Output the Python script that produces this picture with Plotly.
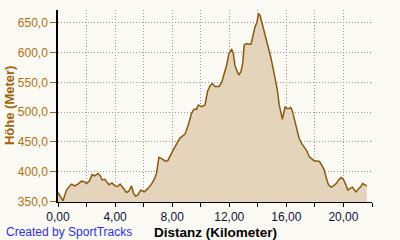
import plotly.graph_objects as go

distance_km = [0.0, 0.35, 0.59, 0.82, 0.94, 1.17, 1.4, 1.64, 1.83, 2.0, 2.22, 2.39, 2.57, 2.81, 2.97,
               3.09, 3.28, 3.44, 3.58, 3.79, 3.98, 4.17, 4.35, 4.56, 4.8, 4.96, 5.15, 5.29, 5.43, 5.57,
               5.8, 6.04, 6.27, 6.55, 6.74, 6.9, 7.07, 7.26, 7.49, 7.68, 7.84, 8.07, 8.53, 8.9, 9.12,
               9.36, 9.52, 9.71, 9.83, 10.06, 10.3, 10.48, 10.65, 10.81, 11.0, 11.28, 11.47, 11.65,
               11.82, 11.98, 12.17, 12.28, 12.4, 12.59, 12.68, 12.82, 12.94, 13.05, 13.22, 13.38,
               13.52, 13.64, 13.8, 13.94, 14.04, 14.15, 14.27, 14.44, 14.58, 14.74, 14.9, 15.05,
               15.21, 15.37, 15.5, 15.63, 15.72, 15.91, 16.02, 16.19, 16.31, 16.42, 16.56, 16.73,
               16.89, 17.08, 17.24, 17.43, 17.61, 17.78, 17.96, 18.13, 18.32, 18.48, 18.65, 18.79,
               18.95, 19.14, 19.3, 19.49, 19.65, 19.84, 20.0, 20.17, 20.31, 20.47, 20.63, 20.77,
               20.89, 21.05, 21.22, 21.33, 21.47, 21.64]
elevation_m = [365, 351, 369, 376, 379, 376, 379, 384, 383, 380, 385, 395, 393, 397, 393,
               386, 387, 382, 378, 381, 376, 375, 379, 373, 365, 367, 376, 364, 359, 360,
               369, 366, 371, 379, 387, 397, 424, 422, 418, 418, 426, 436, 456, 463, 478,
               498, 505, 505, 512, 509, 512, 535, 544, 548, 543, 543, 550, 565,
               579, 599, 605, 599, 578, 566, 563, 568, 582, 613, 615, 614,
               614, 626, 643, 651, 665, 663, 652, 638, 621, 610, 593, 576,
               559, 537, 512, 495, 488, 509, 506, 506, 508, 502, 487, 471,
               456, 447, 441, 435, 425, 421, 418, 418, 417, 411, 403, 390,
               378, 374, 376, 380, 386, 390, 387, 378, 369, 372, 374, 369,
               366, 371, 375, 380, 378, 376]

x_title = "Distanz (Kilometer)"
y_title = "Höhe (Meter)"
credit = "Created by SportTracks"

grid = dict(showgrid=True, gridcolor="#9A9A9A", griddash="1px,2px", gridwidth=1)

fig = go.Figure()
fig.add_trace(go.Scatter(
    x=distance_km, y=elevation_m, mode="lines",
    line=dict(color="#8B5A10", width=1.5),
    fill="tozeroy", fillcolor="#E4D4BC",
    hoverinfo="skip", showlegend=False,
))

fig.update_layout(
    width=400, height=240,
    margin=dict(l=58, r=28, t=10, b=38),
    paper_bgcolor="#FBFAF5", plot_bgcolor="#FBFAF5",
    separators=",.",
    font=dict(family="Liberation Sans, Arial, sans-serif"),
    annotations=[
        dict(text="<b>" + y_title + "</b>", xref="paper", yref="paper", x=-0.156, y=0.5,
             textangle=-90, showarrow=False, xanchor="center", yanchor="middle",
             font=dict(size=13, color="#A0620A")),
        dict(text="<b>" + x_title + "</b>", xref="paper", yref="paper", x=0.5, y=-0.158,
             showarrow=False, xanchor="center", yanchor="middle",
             font=dict(size=13.5, color="#000000")),
        dict(text=credit, xref="paper", yref="paper", x=-0.172, y=-0.158,
             showarrow=False, xanchor="left", yanchor="middle",
             font=dict(size=12, color="#3030E0")),
    ],
)

fig.update_xaxes(
    range=[0, 22], dtick=4, tick0=0, tickformat=".2f",
    showline=True, linecolor="#000000", linewidth=1,
    ticks="outside", ticklen=4, tickcolor="#000000",
    tickfont=dict(size=12, color="#111133"),
    minor=dict(dtick=2, ticks="outside", ticklen=4, tickcolor="#000000", **grid),
    zeroline=False, **grid,
)
fig.update_yaxes(
    range=[349, 671.5], dtick=50, tick0=350, tickformat=".1f",
    showline=True, linecolor="#000000", linewidth=1.5,
    ticks="outside", ticklen=6, tickcolor="#A0620A",
    tickfont=dict(size=12, color="#B07010"),
    zeroline=False, **grid,
)

fig.write_html("out.html")
